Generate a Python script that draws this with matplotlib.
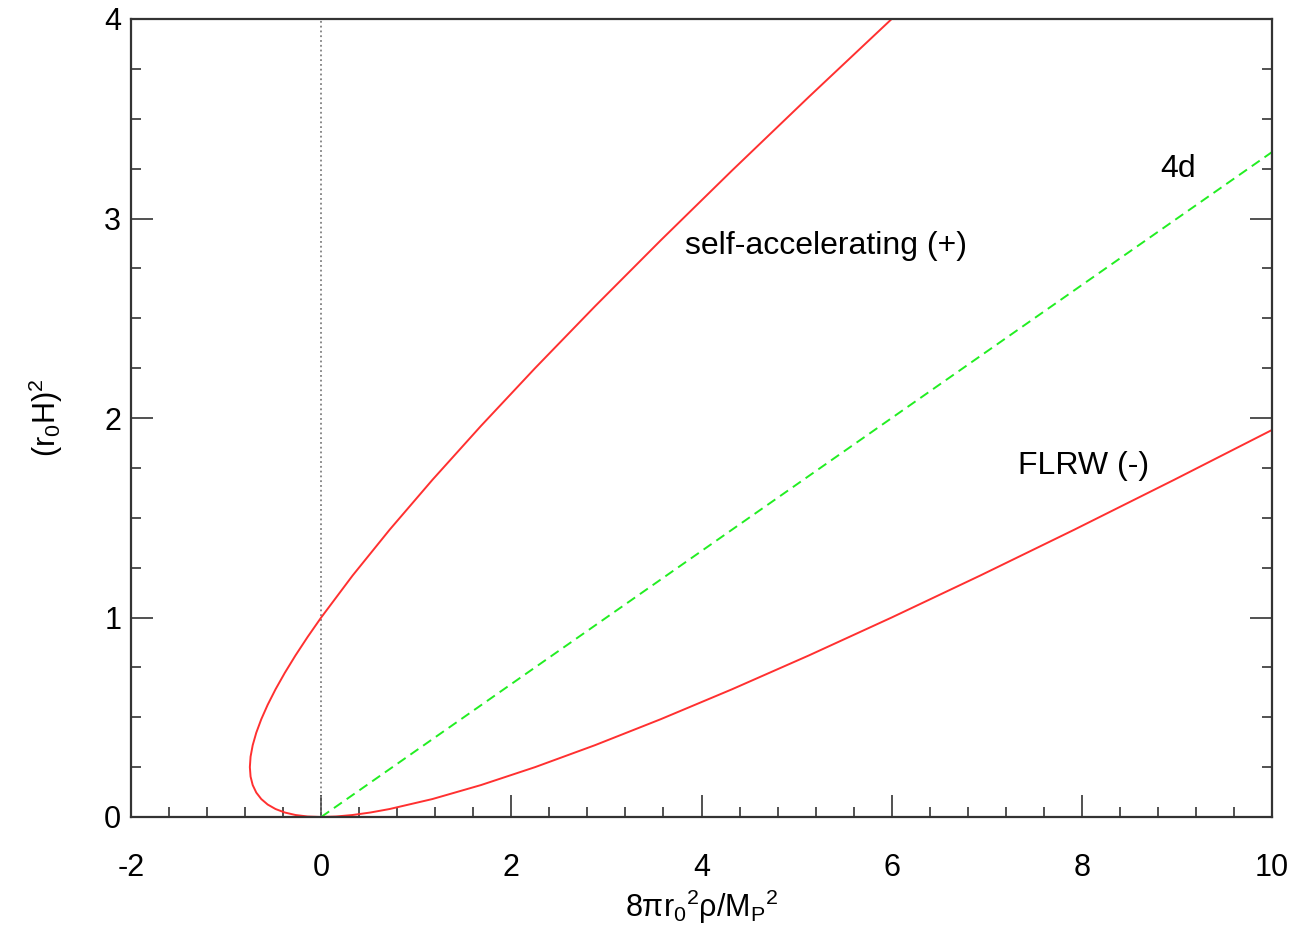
import numpy as np
import matplotlib
matplotlib.use("Agg")
import matplotlib.pyplot as plt

plt.rcParams['font.family'] = ['Liberation Sans', 'DejaVu Sans']
plt.rcParams['mathtext.fontset'] = 'custom'
plt.rcParams['mathtext.rm'] = 'Liberation Sans'
plt.rcParams['mathtext.it'] = 'Liberation Sans'

# -----------------------------
# DATA
# -----------------------------
# self-accelerating branch (+)
sa_x = [0.0, -0.1425, -0.27, -0.3825, -0.48, -0.5625, -0.63, -0.6825, -0.72, -0.7425,
        -0.75, -0.7425, -0.72, -0.6825, -0.63, -0.5625, -0.48, -0.3825, -0.27, -0.1425,
        0.0, 0.33, 0.72, 1.17, 1.68, 2.25, 2.88, 3.57, 4.32, 5.13, 6.0]
sa_y = [0.0, 0.0025, 0.01, 0.0225, 0.04, 0.0625, 0.09, 0.1225, 0.16, 0.2025,
        0.25, 0.3025, 0.36, 0.4225, 0.49, 0.5625, 0.64, 0.7225, 0.81, 0.9025,
        1.0, 1.21, 1.44, 1.69, 1.96, 2.25, 2.56, 2.89, 3.24, 3.61, 4.0]

# FLRW branch (-)
fl_x = [0.0, 0.1575, 0.33, 0.5175, 0.72, 1.17, 1.68, 2.25, 2.88, 3.57,
        4.32, 5.13, 6.0, 6.93, 7.92, 8.97, 10.0]
fl_y = [0.0, 0.0025, 0.01, 0.0225, 0.04, 0.09, 0.16, 0.25, 0.36, 0.49,
        0.64, 0.81, 1.0, 1.21, 1.44, 1.69, 1.94]

# 4d line
d4_x = [0.0, 10.0]
d4_y = [0.0, 3.333]

x_ticks = [-2, 0, 2, 4, 6, 8, 10]
x_ticklabels = ['-2', '0', '2', '4', '6', '8', '10']
y_ticks = [0, 1, 2, 3, 4]

# -----------------------------
# PLOT
# -----------------------------
fig = plt.figure(figsize=(12.95, 9.36), dpi=100)
ax = fig.add_axes([131/1295, 1 - 817/936, 1141/1295, 798/936])

ax.axvline(0, color='grey', linestyle=':', linewidth=1.3)
ax.plot(sa_x, sa_y, color='#ff3030', linewidth=1.4)
ax.plot(fl_x, fl_y, color='#ff3030', linewidth=1.4)
ax.plot(d4_x, d4_y, color='#22ee22', linestyle='--', linewidth=1.4, dashes=(5, 3))

ax.set_xlim(-2, 10)
ax.set_ylim(0, 4)
ax.set_xticks(x_ticks)
ax.set_xticklabels(x_ticklabels)
ax.set_yticks(y_ticks)
ax.set_xticks(np.arange(-2, 10.01, 0.4), minor=True)
ax.set_yticks(np.arange(0, 4.01, 0.25), minor=True)

ax.tick_params(which='both', direction='in', top=False, right=True,
               labelsize=22, width=1.2, color='#333333')
ax.tick_params(which='major', length=16)
ax.tick_params(which='minor', length=7)
ax.tick_params(axis='x', which='major', pad=26)
ax.tick_params(axis='y', which='major', pad=7)
for s in ax.spines.values():
    s.set_linewidth(1.6)
    s.set_color('#333333')

ax.text(3.83, 2.86, 'self-accelerating (+)', fontsize=23, va='center')
ax.text(8.82, 3.25, '4d', fontsize=23, va='center')
ax.text(7.33, 1.76, 'FLRW (-)', fontsize=23, va='center')

ax.set_xlabel(r'$8\pi r_0{}^{2}\rho/M_P{}^{2}$', fontsize=22, labelpad=3)
ax.set_ylabel(r'$(r_0H)^2$', fontsize=22, labelpad=28)

fig.savefig('out.png', dpi=100)
